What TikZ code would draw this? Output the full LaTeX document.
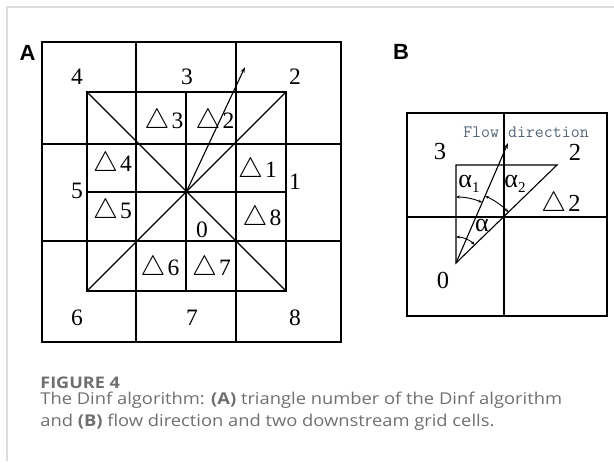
\documentclass[tikz,border=0pt]{standalone}
\usepackage{fontspec}
\usepackage{graphicx}
\setmainfont{Liberation Serif}
\newfontfamily\capfont[FakeStretch=1.125]{Open Sans}
\newfontfamily\panelfont{Liberation Sans}
\usetikzlibrary{arrows.meta}

\definecolor{framegray}{HTML}{DCDCDC}
\definecolor{captiongray}{HTML}{6F6F6F}
\definecolor{flowgray}{HTML}{56667A}

\newcommand{\tri}{\scalebox{1.12}{$\triangle$}\kern2pt}
\newcommand{\asub}[1]{α\raisebox{-5pt}{\fontsize{15}{15}\selectfont #1}}

\begin{document}
\begin{tikzpicture}[x=1pt,y=-1pt,thick,
  cell/.style={line width=1.1pt},
  lab/.style={inner sep=0pt,font=\fontsize{23.5}{23.5}\selectfont},
  labB/.style={inner sep=0pt,font=\fontsize{24.5}{24.5}\selectfont},
  alab/.style={inner sep=0pt,font=\fontsize{26}{26}\selectfont},
  flow/.style={line width=1.1pt,-{Stealth[length=6pt,width=4pt]}},
  anglearc/.style={line width=0.9pt,{Stealth[length=4pt,width=3pt]}-{Stealth[length=4pt,width=3pt]}}]

\useasboundingbox (0,0) rectangle (614,463);

% page frame
\draw[framegray,line width=1.5pt] (614,7) -- (7,7) -- (7,461);

% panel letters
\node[inner sep=0pt,font=\panelfont\bfseries\fontsize{22}{22}\selectfont] (labA) at (27.5,52.5) {A};
\node[inner sep=0pt,font=\panelfont\bfseries\fontsize{22}{22}\selectfont] (labB) at (401,52) {B};

% A: the 3x3 grid
\draw[cell] (42,42) rectangle (341,342);
\draw[cell] (136,42) -- (136,342) (236,42) -- (236,342);
\draw[cell] (42,144) -- (341,144) (42,241) -- (341,241);

% A: inner square and its triangles
\draw[cell] (87,92) rectangle (286,291);
\draw[cell] (186,92) -- (186,291) (87,192) -- (286,192);
\draw[cell] (87,92) -- (286,291) (87,291) -- (286,92);

\coordinate (ca) at (186.5,191.5);
\coordinate (tipA) at (245,67);
\fill (ca) circle (1.6);
\draw[flow] (ca) -- (tipA);

% A: neighbour numbers
\node[lab] (a4) at (77,77) {4};
\node[lab] (a3) at (187,77) {3};
\node[lab] (a2) at (295,77) {2};
\node[lab] (a5) at (77,191) {5};
\node[lab] (a1) at (295,182) {1};
\node[lab] (a6) at (77,318) {6};
\node[lab] (a7) at (192,318) {7};
\node[lab] (a8) at (295,318) {8};
\node[lab] (a0) at (202,230) {0};

% A: triangle numbers
\node[lab] (t3) at (164,122) {\tri3};
\node[lab] (t2) at (215,122) {\tri2};
\node[lab] (t4) at (112.5,165) {\tri4};
\node[lab] (t5) at (112.5,212) {\tri5};
\node[lab] (t1) at (257.5,171) {\tri1};
\node[lab] (t8) at (262,219) {\tri8};
\node[lab] (t6) at (160,269) {\tri6};
\node[lab] (t7) at (211.5,269) {\tri7};

% B: the 2x2 grid
\draw[cell] (407,113) rectangle (607,316);
\draw[cell] (504,113) -- (504,316) (407,217) -- (607,217);

% B: triangle 2 and flow direction
\coordinate (o) at (456,263);
\coordinate (ol) at (456,165);
\coordinate (or) at (557,165);
\coordinate (tipB) at (508,143);
\draw[cell] (o) -- (ol) -- (or) -- cycle;
\draw[flow] (o) -- (tipB);

% B: angles
\draw[anglearc] ([shift={(-90:66)}]o) arc (-90:-66.6:66);
\draw[anglearc] ([shift={(-66.6:73)}]o) arc (-66.6:-44.1:73);
\draw[anglearc] ([shift={(-90:26)}]o) arc (-90:-44.1:26);

% B: labels
\node[labB] (b3) at (440,152) {3};
\node[labB] (b2) at (575,152) {2};
\node[labB] (b0) at (443,280) {0};
\node[labB] (bt2) at (561,205) {\tri2};
\node[alab] (al1) at (469,184) {\asub{1}};
\node[alab] (al2) at (515,184) {\asub{2}};
\node[alab] (al) at (482,225) {α};
\node[inner sep=0pt,text=flowgray,font=\ttfamily\fontsize{17.4}{17.4}\selectfont] (flowlab) at (526,132) {Flow direction};

% caption
\node[anchor=base west,inner sep=0pt,text=captiongray,font=\capfont\bfseries\fontsize{16}{16}\selectfont] (fig) at (40,388) {FIGURE 4};
\node[anchor=base west,inner sep=0pt,text=captiongray,font=\capfont\fontsize{16.3}{22}\selectfont] (cap1) at (40,404) {The Dinf algorithm: \textbf{(A)} triangle number of the Dinf algorithm};
\node[anchor=base west,inner sep=0pt,text=captiongray,font=\capfont\fontsize{16.3}{22}\selectfont] (cap2) at (40,426) {and \textbf{(B)} flow direction and two downstream grid cells.};

\end{tikzpicture}
\end{document}
